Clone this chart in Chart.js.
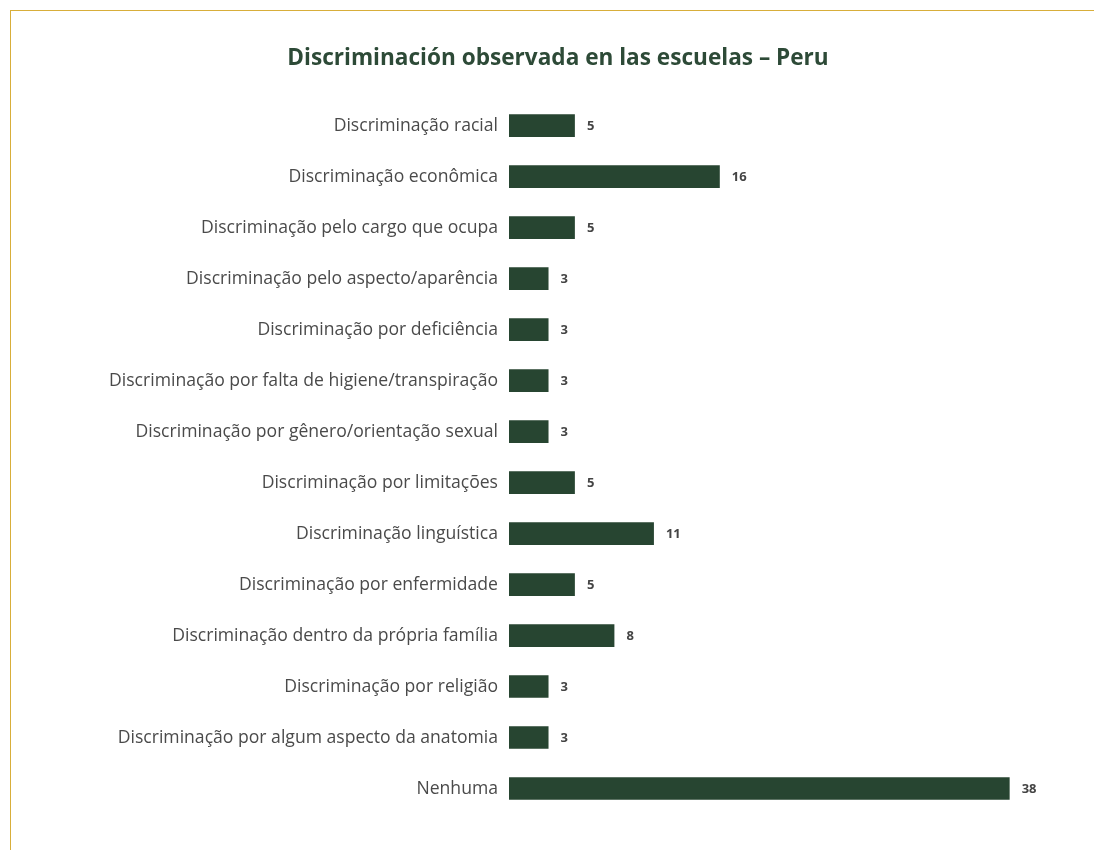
<!DOCTYPE html>
<html>
<head>
<meta charset="utf-8">
<script src="https://cdn.jsdelivr.net/npm/chart.js@4.4.0/dist/chart.umd.min.js"></script>
<style>
  html, body { margin: 0; padding: 0; background: #fff; }
  #frame {
    position: absolute; left: 10px; top: 10px; width: 1084px; height: 840px;
    border-top: 1px solid #d8ae3a; border-left: 1px solid #d8ae3a;
  }
  #wrap { position: absolute; left: 0; top: 0; width: 1094px; height: 850px; }
</style>
</head>
<body>
<div id="frame"></div>
<div id="wrap"><canvas id="discriminationChart"></canvas></div>
<script>
// valores (Peru)
const categories = [
  "Discriminação racial",
  "Discriminação econômica",
  "Discriminação pelo cargo que ocupa",
  "Discriminação pelo aspecto/aparência",
  "Discriminação por deficiência",
  "Discriminação por falta de higiene/transpiração",
  "Discriminação por gênero/orientação sexual",
  "Discriminação por limitações",
  "Discriminação linguística",
  "Discriminação por enfermidade",
  "Discriminação dentro da própria família",
  "Discriminação por religião",
  "Discriminação por algum aspecto da anatomia",
  "Nenhuma"
];
const values = [5, 16, 5, 3, 3, 3, 3, 5, 11, 5, 8, 3, 3, 38];
const chartTitle = "Discriminación observada en las escuelas – Peru";

const FONT = "'Open Sans', sans-serif";

// rótulos de valor ao lado das barras
const valueLabels = {
  id: "valueLabels",
  afterDatasetsDraw(chart) {
    const ctx = chart.ctx;
    const meta = chart.getDatasetMeta(0);
    ctx.save();
    ctx.font = "bold 13px " + FONT;
    ctx.fillStyle = "#444";
    ctx.textAlign = "left";
    ctx.textBaseline = "middle";
    meta.data.forEach((bar, i) => {
      ctx.fillText(String(values[i]), bar.x + 12, bar.y + 1);
    });
    ctx.restore();
  }
};

const canvasElement = document.getElementById("discriminationChart");
new Chart(canvasElement.getContext("2d"), {
  type: "bar",
  data: {
    labels: categories,
    datasets: [
      {
        data: values,
        backgroundColor: "#274531",
        borderWidth: 0,
        categoryPercentage: 1,
        barPercentage: 0.445,
      },
    ],
  },
  options: {
    indexAxis: "y",
    responsive: true,
    maintainAspectRatio: false,
    animation: false,
    layout: { padding: { top: 45, bottom: 36, left: 80, right: 58 } },
    plugins: {
      legend: { display: false },
      tooltip: { enabled: false },
      title: {
        display: true,
        text: chartTitle,
        color: "#2d4a37",
        font: { family: FONT, size: 22.6, weight: "bold" },
        padding: { top: 0, bottom: 28 },
      },
    },
    scales: {
      x: {
        display: false,
        min: 0,
        max: 40,
      },
      y: {
        grid: { display: false, drawTicks: false },
        border: { display: false },
        ticks: {
          color: "#4a4a4a",
          padding: 11,
          font: { family: FONT, size: 17.6 },
        },
        afterFit(scale) {
          scale.width = 429;
        },
      },
    },
  },
  plugins: [valueLabels],
});
</script>
</body>
</html>
